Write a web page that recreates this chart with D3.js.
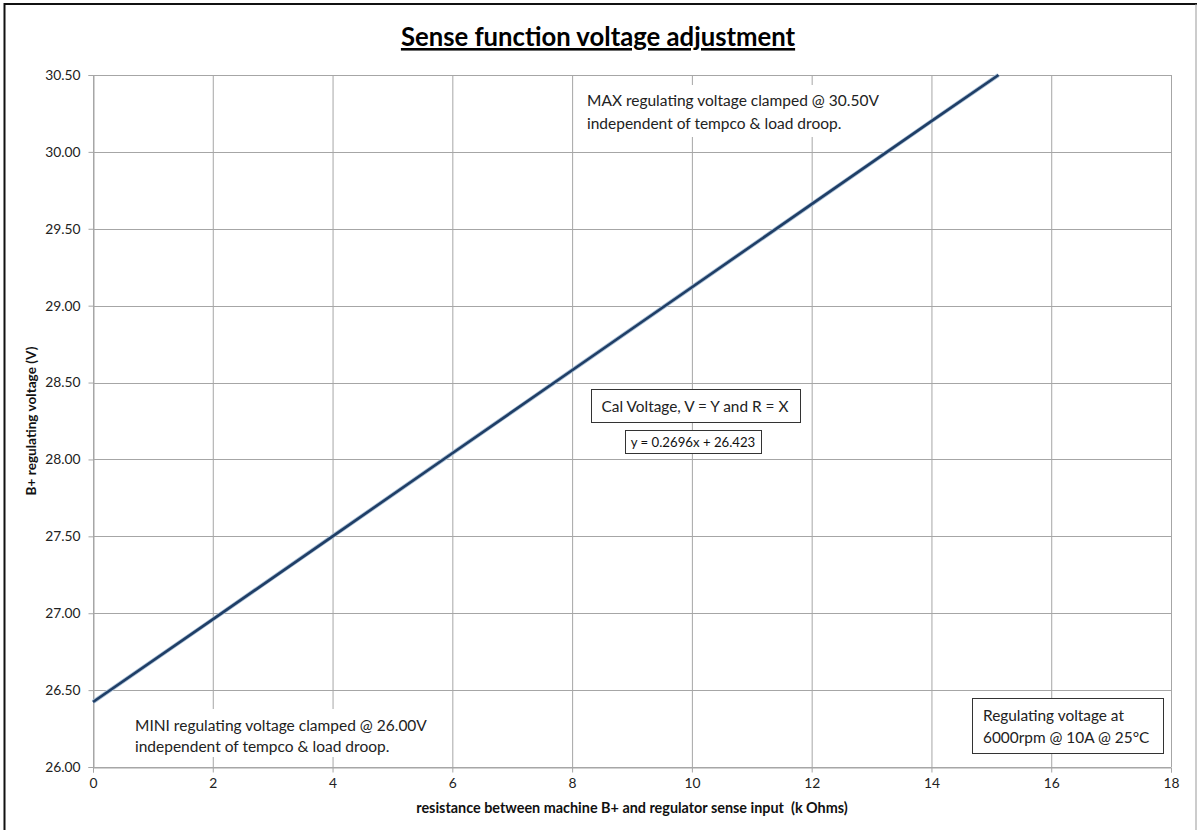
<!DOCTYPE html>
<html><head><meta charset="utf-8">
<script src="https://cdn.jsdelivr.net/npm/d3@7"></script>
<style>
body{margin:0;background:#fff;}
text{font-family:Lato,"Open Sans",sans-serif;}
</style></head><body>
<svg id="c" width="1197" height="830"></svg>
<script>
const resistance = [0, 2, 4, 6, 8, 10, 12, 14, 15.12];
const voltage = [26.423, 26.96, 27.50, 28.04, 28.58, 29.12, 29.66, 30.20, 30.50];
const xTicks = [0, 2, 4, 6, 8, 10, 12, 14, 16, 18];
const yTicks = [26.00, 26.50, 27.00, 27.50, 28.00, 28.50, 29.00, 29.50, 30.00, 30.50];
const titleText = "Sense function voltage adjustment";
const xLabel = "resistance between machine B+ and regulator sense input  (k Ohms)";
const yLabel = "B+ regulating voltage (V)";
const maxNote = ["MAX regulating voltage clamped @ 30.50V", "independent of tempco & load droop."];
const minNote = ["MINI regulating voltage clamped @ 26.00V", "independent of tempco & load droop."];
const calNote = "Cal Voltage, V = Y and R = X";
const eqNote = "y = 0.2696x + 26.423";
const condNote = ["Regulating voltage at", "6000rpm @ 10A @ 25°C"];

const svg = d3.select("#c");
const L = 93, R = 1171, T = 75, B = 767;
const x = d3.scaleLinear().domain([0, 18]).range([L, R]);
const y = d3.scaleLinear().domain([26, 30.5]).range([B, T]);

// outer frame
svg.append("line").attr("x1",4.5).attr("x2",4.5).attr("y1",3).attr("y2",830).attr("stroke","#111").attr("stroke-width",2);
svg.append("line").attr("x1",4).attr("x2",1197).attr("y1",4).attr("y2",4).attr("stroke","#111").attr("stroke-width",2);
svg.append("line").attr("x1",1196).attr("x2",1196).attr("y1",4).attr("y2",830).attr("stroke","#999").attr("stroke-width",1);

// gridlines
const g = svg.append("g");
g.selectAll(".vg").data(xTicks).join("line")
  .attr("x1",d=>x(d)+0.5).attr("x2",d=>x(d)+0.5).attr("y1",T).attr("y2",B)
  .attr("stroke","#a6a6a6").attr("stroke-width",1);
g.selectAll(".hg").data(yTicks).join("line")
  .attr("x1",L).attr("x2",R).attr("y1",d=>Math.round(y(d))+0.5).attr("y2",d=>Math.round(y(d))+0.5)
  .attr("stroke","#a6a6a6").attr("stroke-width",1);

// axes
const xa = svg.append("g").attr("transform",`translate(0,${B+0.5})`)
  .call(d3.axisBottom(x).tickValues(xTicks).tickSize(5).tickPadding(6).tickFormat(d3.format("d")));
const ya = svg.append("g").attr("transform",`translate(${L+0.5},0)`)
  .call(d3.axisLeft(y).tickValues(yTicks).tickSize(5).tickPadding(8).tickFormat(d3.format(".2f")));
[xa, ya].forEach(a=>{
  a.select(".domain").attr("stroke","#a6a6a6");
  a.selectAll(".tick line").attr("stroke","#a6a6a6");
  a.selectAll(".tick text").attr("fill","#222").style("font-size","13.8px").style("font-family","Lato,sans-serif");
});

// white note backgrounds (cover gridlines)
svg.append("rect").attr("x",578).attr("y",85).attr("width",318).attr("height",52).attr("fill","#fff");
svg.append("rect").attr("x",124).attr("y",709).attr("width",318).attr("height",48).attr("fill","#fff");

// line
const line = d3.line().x((d,i)=>x(resistance[i])).y(d=>y(d));
svg.append("path").datum(voltage).attr("d",line).attr("fill","none")
  .attr("stroke","#a9bfd6").attr("stroke-width",4.2);
svg.append("path").datum(voltage).attr("d",line).attr("fill","none")
  .attr("stroke","#1f3e66").attr("stroke-width",2.6);

// notes
function lines(xp, yp, arr, size, lh){
  const t = svg.append("text").attr("x",xp).attr("y",yp).attr("fill","#222").style("font-size",size+"px");
  arr.forEach((s,i)=>t.append("tspan").attr("x",xp).attr("dy",i?lh:0).text(s));
}
lines(587, 106, maxNote, 15.5, 23);
lines(135, 731, minNote, 15.5, 21);

svg.append("rect").attr("x",591.5).attr("y",389.5).attr("width",209).attr("height",33).attr("fill","#fff").attr("stroke","#333").attr("stroke-width",1);
svg.append("text").attr("x",695).attr("y",412).attr("text-anchor","middle").attr("fill","#222").style("font-size","15.4px").text(calNote);
svg.append("rect").attr("x",625.5).attr("y",430.5).attr("width",136).attr("height",23).attr("fill","#fff").attr("stroke","#333").attr("stroke-width",1);
svg.append("text").attr("x",693).attr("y",447).attr("text-anchor","middle").attr("fill","#111").style("font-size","13.2px").text(eqNote);

svg.append("rect").attr("x",972.5).attr("y",698.5).attr("width",191).attr("height",55).attr("fill","#fff").attr("stroke","#333").attr("stroke-width",1);
lines(983, 721, condNote, 15.4, 22);

// title
svg.append("text").attr("x",598).attr("y",46).attr("text-anchor","middle").attr("fill","#000")
  .style("font-size","25.7px").style("font-weight","bold").style("text-decoration","underline").text(titleText);

// axis titles
svg.append("text").attr("x",632).attr("y",813).attr("text-anchor","middle").attr("fill","#111")
  .style("font-size","14.4px").style("font-weight","bold").style("white-space","pre").text(xLabel);
svg.append("text").attr("transform","translate(36,421) rotate(-90)").attr("text-anchor","middle").attr("fill","#111")
  .style("font-size","13.6px").style("font-weight","bold").text(yLabel);
</script></body></html>
